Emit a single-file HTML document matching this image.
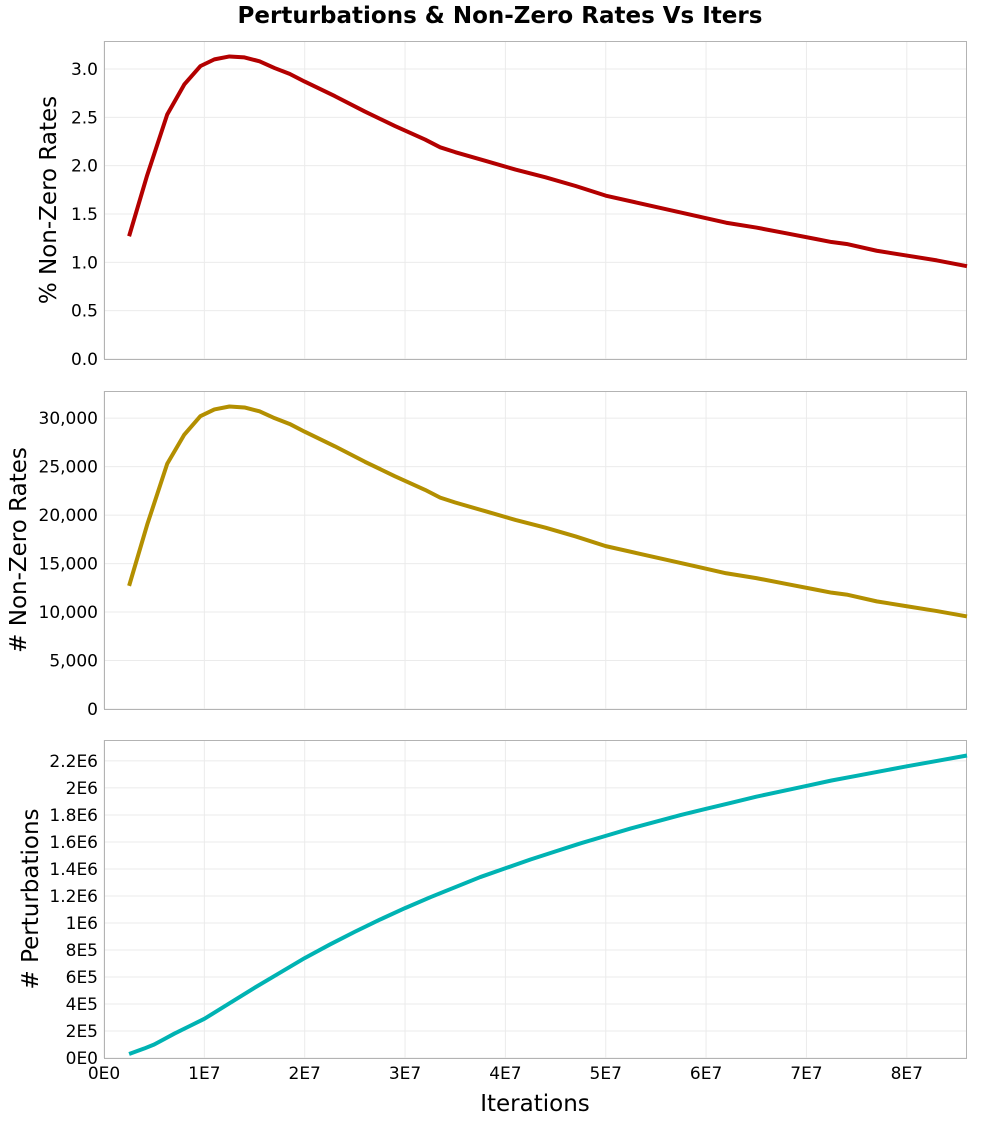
<!DOCTYPE html>
<html><head><meta charset="utf-8"><style>
body{margin:0;background:#fff}
svg text{font-family:"DejaVu Sans","Liberation Sans",sans-serif;fill:#000}
</style></head><body>
<svg id="c" width="1000" height="1120"></svg>
<script>
const xsTop=[2.5,4.3,6.3,8.0,9.6,11.0,12.5,14.0,15.5,17,18.5,20,23,26,29,32,33.5,35,38,41,44,47,50,53,56,59,62,65,68,71,72.5,74,77,80,83,86];
const pctVals=[1.27,1.9,2.53,2.84,3.03,3.1,3.13,3.12,3.08,3.01,2.95,2.87,2.72,2.56,2.41,2.27,2.19,2.14,2.05,1.96,1.88,1.79,1.69,1.62,1.55,1.48,1.41,1.36,1.30,1.24,1.21,1.19,1.12,1.07,1.02,0.96];
const cntVals=[12700,19000,25300,28300,30200,30900,31200,31100,30700,30000,29400,28600,27100,25500,24000,22600,21800,21300,20400,19500,18700,17800,16800,16100,15400,14700,14000,13500,12900,12300,12000,11800,11100,10600,10100,9550];
const xsBot=[2.5,4,5,6,7,8.5,10,12.5,15,17.5,20,22.5,25,27.5,30,32.5,35,37.5,40,42.5,45,47.5,50,52.5,55,57.5,60,62.5,65,67.5,70,72.5,75,77.5,80,83,86];
const pertVals=[0.03,0.07,0.1,0.14,0.18,0.235,0.29,0.405,0.52,0.63,0.74,0.84,0.935,1.025,1.11,1.19,1.265,1.34,1.405,1.47,1.53,1.59,1.645,1.7,1.75,1.8,1.845,1.89,1.935,1.975,2.015,2.055,2.09,2.125,2.16,2.2,2.24];
const xTicks=[0,1,2,3,4,5,6,7,8];
const xTickLabels=["0E0","1E7","2E7","3E7","4E7","5E7","6E7","7E7","8E7"];
const pctTicks=[0,0.5,1,1.5,2,2.5,3];
const cntTicks=[0,5000,10000,15000,20000,25000,30000];
const pertTicks=[0,0.2,0.4,0.6,0.8,1,1.2,1.4,1.6,1.8,2,2.2];
const pertLabels=["0E0","2E5","4E5","6E5","8E5","1E6","1.2E6","1.4E6","1.6E6","1.8E6","2E6","2.2E6"];

const svg=document.getElementById('c');const NS='http://www.w3.org/2000/svg';
function el(t,a,p){const e=document.createElementNS(NS,t);for(const k in a)e.setAttribute(k,a[k]);(p||svg).appendChild(e);return e;}
const X0=104,X1=967,XMAX=86;
const xs=v=>X0+(v/XMAX)*(X1-X0);
const t=el('text',{x:500,y:23,'text-anchor':'middle','font-size':23,'font-weight':'bold'});t.textContent='Perturbations & Non-Zero Rates Vs Iters';


function panel(name,top,bot,ymax,ticks,labels,xv,yv,color,title,showX){
  const g=el('g',{});
  
  
  const ys=v=>bot-(v/ymax)*(bot-top);
  xTicks.forEach(v=>el('line',{x1:xs(v*10),x2:xs(v*10),y1:top,y2:bot,stroke:'#ebebeb'},g));
  ticks.forEach((v,i)=>{el('line',{x1:X0,x2:X1,y1:ys(v),y2:ys(v),stroke:'#ebebeb'},g);
    const tx=el('text',{x:X0-6,y:ys(v)+6,'text-anchor':'end','font-size':17},g);tx.textContent=labels[i];
    
    });
  el('rect',{x:X0+0.5,y:top+0.5,width:X1-X0-1,height:bot-top,fill:'none',stroke:'#b3b3b3'},g);
  const p=el('polyline',{points:xv.map((x,i)=>xs(x)+','+ys(yv[i])).join(' '),fill:'none',stroke:color,'stroke-width':4,'stroke-linejoin':'round'},g);
  
  
  const yt=el('text',{transform:`translate(${title.x},${(top+bot)/2}) rotate(-90)`,'text-anchor':'middle','font-size':23},g);yt.textContent=title.t;
  
  
  if(showX){xTicks.forEach((v,i)=>{const tx=el('text',{x:xs(v*10),y:bot+21,'text-anchor':'middle','font-size':17},g);tx.textContent=xTickLabels[i];
    
    });
    const xt=el('text',{x:535,y:1111,'text-anchor':'middle','font-size':23},g);xt.textContent='Iterations';
    
    }
}
panel('pct-panel',41,359,3.29,pctTicks,pctTicks.map(v=>v.toFixed(1)),xsTop,pctVals,'#b30000',{x:56,t:'% Non-Zero Rates'},false);
panel('count-panel',391,709,32800,cntTicks,cntTicks.map(v=>v.toLocaleString('en-US')),xsTop,cntVals,'#b38f00',{x:26,t:'# Non-Zero Rates'},false);
panel('pert-panel',740,1058,2.355,pertTicks,pertLabels,xsBot,pertVals,'#00b3b3',{x:38,t:'# Perturbations'},true);
</script>
</body></html>
